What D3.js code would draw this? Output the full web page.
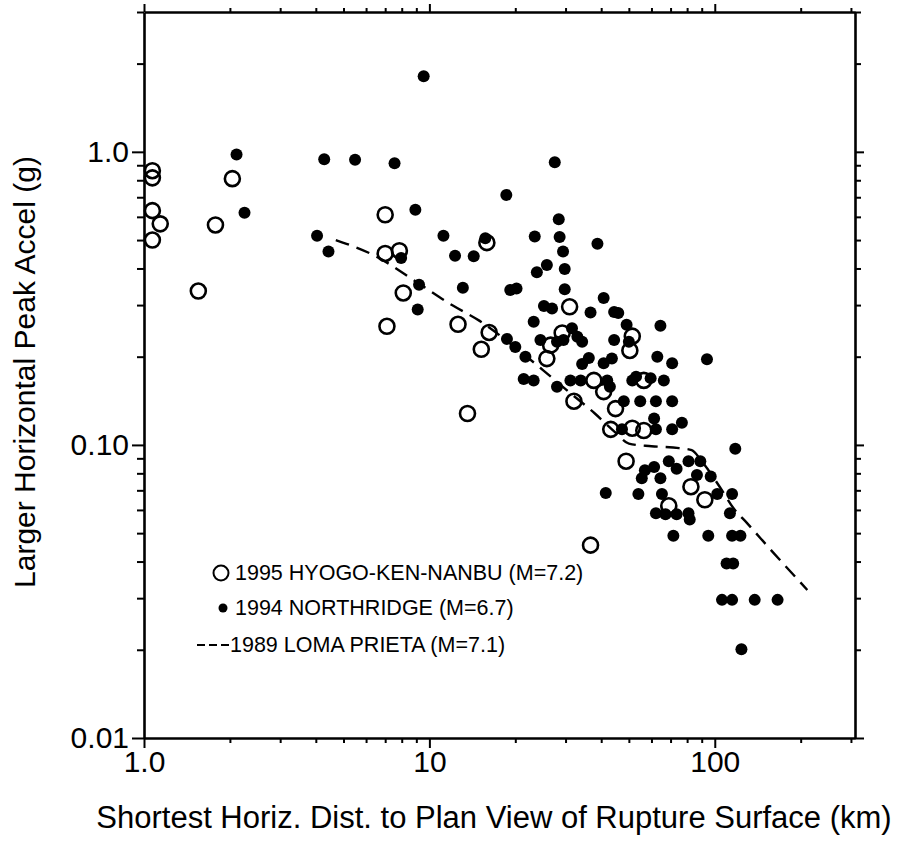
<!DOCTYPE html>
<html>
<head>
<meta charset="utf-8">
<script src="https://cdn.jsdelivr.net/npm/d3@7"></script>
<style>
    body { margin: 0; background: #fff; }
    #chart { width: 903px; height: 841px; }
    text { font-family: "Liberation Sans", Arial, Helvetica, sans-serif; fill: #000; }
</style>
</head>
<body>
<div id="chart"></div>
<script>
// 1995 Hyogo-ken-Nanbu records [distance km, pga g]
const hyogoDist = [1.07, 1.07, 1.07, 1.14, 1.07, 2.04, 1.78, 1.55, 7.0, 7.0, 7.85, 8.1, 7.1, 12.6, 13.6, 15.2,
    16.2, 15.9, 25.8, 26.6, 29.2, 31, 32.1, 37.7, 36.7, 40.8, 44.9, 43.2, 51.4, 56.4, 51.4, 50.4, 56.4, 48.9,
    69, 82.5, 92.3];
const hyogoPga = [0.862, 0.815, 0.63, 0.568, 0.50, 0.81, 0.563, 0.335, 0.61, 0.45, 0.46, 0.33, 0.254, 0.258, 0.128, 0.212,
    0.242, 0.49, 0.197, 0.219, 0.241, 0.296, 0.141, 0.166, 0.0455, 0.152, 0.133, 0.113, 0.114, 0.112, 0.235, 0.210, 0.166, 0.088,
    0.062, 0.072, 0.065];

// 1994 Northridge records
const northDist = [2.11, 2.25, 4.04, 4.28, 4.43, 5.49, 7.55, 7.96, 8.93, 9.2, 9.1, 9.55, 11.2, 12.3, 13.1, 14.3,
    15.7, 18.6, 19.2, 20.2, 18.7, 20.0, 21.7, 21.4, 23.2, 23.2, 23.4, 23.8, 24.5, 25.2, 25.8, 26.9,
    27.5, 28, 28, 28.4, 28.6, 29.4, 29.5, 29.8, 29.8, 31.6, 33, 34.3, 31.2, 33.9, 34.3, 36.2,
    36.7, 38.8, 40.8, 40.8, 43.6, 44.4, 45.9, 44.4, 41.5, 42.0, 42.9, 47.3, 48, 49.1, 50, 51.4, 53,
    54, 54.8, 55.5, 56.9, 59.6, 61.3, 61.3, 62.2, 62.2, 62.2, 62.9, 64.5, 64.5, 65.3, 66.3, 67.2,
    69, 70.9, 70.9, 70.9, 71.6, 73.5, 73.5, 76.7, 80.9, 80.9, 81.7, 86.6, 89, 93.9, 94.9, 96.8,
    102, 106, 110, 113, 115, 115, 115, 116, 118, 123, 124, 138, 166];
const northPga = [0.98, 0.62, 0.517, 0.944, 0.457, 0.94, 0.915, 0.434, 0.634, 0.352, 0.29, 1.81, 0.517, 0.442, 0.344, 0.44,
    0.507, 0.713, 0.338, 0.342, 0.23, 0.216, 0.2, 0.168, 0.166, 0.263, 0.514, 0.388, 0.228, 0.298, 0.411, 0.292,
    0.922, 0.158, 0.225, 0.589, 0.512, 0.457, 0.228, 0.398, 0.34, 0.25, 0.234, 0.225, 0.166, 0.166, 0.189, 0.198,
    0.283, 0.486, 0.317, 0.19, 0.197, 0.284, 0.282, 0.228, 0.0685, 0.166, 0.158, 0.113, 0.141, 0.257, 0.225, 0.166, 0.171,
    0.068, 0.141, 0.077, 0.082, 0.169, 0.084, 0.123, 0.141, 0.113, 0.0585, 0.2, 0.255, 0.077, 0.068, 0.166, 0.058,
    0.088, 0.19, 0.141, 0.113, 0.049, 0.083, 0.058, 0.119, 0.088, 0.0585, 0.0557, 0.079, 0.088, 0.196, 0.049, 0.078,
    0.068, 0.0296, 0.0394, 0.0585, 0.068, 0.049, 0.0296, 0.0394, 0.097, 0.049, 0.0201, 0.0296, 0.0296];

// 1989 Loma Prieta curve
const lomaDist = [4.7, 6.5, 9, 12, 15, 20, 25, 30, 38, 45, 50, 60, 75, 83, 90, 104, 116, 130, 160, 211];
const lomaPga = [0.50, 0.44, 0.36, 0.30, 0.265, 0.215, 0.18, 0.155, 0.128, 0.11, 0.101, 0.099, 0.0975, 0.096, 0.088,
    0.072, 0.061, 0.054, 0.043, 0.032];

const xTickLabels = {1: "1.0", 10: "10", 100: "100"};
const yTickLabels = {0.01: "0.01", 0.1: "0.10", 1: "1.0"};
const legendLabels = ["1995 HYOGO-KEN-NANBU (M=7.2)", "1994 NORTHRIDGE (M=6.7)", "1989 LOMA PRIETA (M=7.1)"];

class AccelVis {

    constructor(parentElement) {
        this.parentElement = parentElement;
        this.hyogo = hyogoDist.map((d, i) => ({dist: d, pga: hyogoPga[i]}));
        this.north = northDist.map((d, i) => ({dist: d, pga: northPga[i]}));
        this.loma = lomaDist.map((d, i) => ({dist: d, pga: lomaPga[i]}));
        this.initVis();
    }

    initVis() {
        let vis = this;

        vis.margin = {top: 12, right: 48, bottom: 103, left: 144};
        vis.width = 903 - vis.margin.left - vis.margin.right;
        vis.height = 841 - vis.margin.top - vis.margin.bottom;

        vis.svg = d3.select("#" + vis.parentElement).append("svg")
            .attr("width", 903)
            .attr("height", 841);

        vis.chartArea = vis.svg.append("g")
            .attr("transform", "translate(" + vis.margin.left + "," + vis.margin.top + ")");

        // log scales
        vis.x = d3.scaleLog()
            .domain([1, 310])
            .range([0, vis.width]);

        vis.y = d3.scaleLog()
            .domain([0.01, 3])
            .range([vis.height, 0]);

        // every log tick 1..9 per decade
        vis.xTicks = [];
        [1, 10, 100].forEach(dec => {
            for (let k = 1; k < 10; k++) {
                if (dec * k <= 310) vis.xTicks.push(dec * k);
            }
        });
        vis.yTicks = [];
        [0.01, 0.1, 1].forEach(dec => {
            for (let k = 1; k < 10; k++) {
                if (dec * k <= 3) vis.yTicks.push(+(dec * k).toFixed(3));
            }
        });

        vis.isMajor = v => Math.abs(Math.log10(v) - Math.round(Math.log10(v))) < 1e-6;

        vis.drawAxis(d3.axisBottom(vis.x), vis.xTicks, "translate(0," + vis.height + ")", xTickLabels, 10, 5);
        vis.drawAxis(d3.axisTop(vis.x), vis.xTicks, "translate(0,0)", {}, 8, 4);
        vis.drawAxis(d3.axisLeft(vis.y), vis.yTicks, "translate(0,0)", yTickLabels, 12, 7);
        vis.drawAxis(d3.axisRight(vis.y), vis.yTicks, "translate(" + vis.width + ",0)", {}, 9, 6);

        // axis titles
        vis.svg.append("text")
            .attr("x", 494)
            .attr("y", 828)
            .attr("text-anchor", "middle")
            .attr("font-size", 31)
            .text("Shortest Horiz. Dist. to Plan View of Rupture Surface (km)");

        vis.svg.append("text")
            .attr("transform", "translate(35,372) rotate(-90)")
            .attr("text-anchor", "middle")
            .attr("font-size", 30)
            .text("Larger Horizontal Peak Accel (g)");

        vis.drawLegend();
        vis.updateVis();
    }

    drawAxis(axis, ticks, transform, labels, majorLen, minorLen) {
        let vis = this;
        let g = vis.chartArea.append("g")
            .attr("transform", transform)
            .call(axis.tickValues(ticks)
                .tickSizeOuter(0)
                .tickSizeInner(majorLen)
                .tickFormat(d => labels[d] || ""));

        g.select(".domain")
            .attr("stroke", "#000")
            .attr("stroke-width", 2.6);

        // shorter minor ticks
        g.selectAll(".tick line")
            .attr("stroke", "#000")
            .attr("stroke-width", 2)
            .each(function(d) {
                let len = vis.isMajor(d) ? majorLen : minorLen;
                let line = d3.select(this);
                if (line.attr("x2") && +line.attr("x2") !== 0) {
                    line.attr("x2", Math.sign(+line.attr("x2")) * len);
                } else {
                    line.attr("y2", Math.sign(+line.attr("y2")) * len);
                }
            });

        g.selectAll(".tick text")
            .attr("font-size", 30)
            .attr("font-family", "'Liberation Sans', Arial, sans-serif")
            .attr("fill", "#000");

        return g;
    }

    drawLegend() {
        let vis = this;
        vis.legend = vis.svg.append("g");

        vis.legend.append("circle")
            .attr("cx", 221)
            .attr("cy", 573)
            .attr("r", 7.5)
            .attr("fill", "#fff")
            .attr("stroke", "#000")
            .attr("stroke-width", 2);

        vis.legend.append("circle")
            .attr("cx", 223)
            .attr("cy", 608)
            .attr("r", 4.5)
            .attr("fill", "#000");

        vis.legend.append("line")
            .attr("x1", 197)
            .attr("x2", 229)
            .attr("y1", 645)
            .attr("y2", 645)
            .attr("stroke", "#000")
            .attr("stroke-width", 2)
            .attr("stroke-dasharray", "8,4");

        vis.legend.selectAll(".legend-label")
            .data(legendLabels)
            .enter()
            .append("text")
            .attr("class", "legend-label")
            .attr("x", (d, i) => i === 2 ? 230 : 235)
            .attr("y", (d, i) => [573, 608, 645][i])
            .attr("dominant-baseline", "central")
            .attr("font-size", 21.5)
            .text(d => d);
    }

    updateVis() {
        let vis = this;

        vis.chartArea.append("path")
            .datum(vis.loma)
            .attr("fill", "none")
            .attr("stroke", "#000")
            .attr("stroke-width", 2.4)
            .attr("stroke-dasharray", "14,8")
            .attr("d", d3.line()
                .curve(d3.curveMonotoneX)
                .x(d => vis.x(d.dist))
                .y(d => vis.y(d.pga)));

        vis.chartArea.selectAll(".north-dot")
            .data(vis.north)
            .enter()
            .append("circle")
            .attr("class", "north-dot")
            .attr("r", 6)
            .attr("cx", d => vis.x(d.dist))
            .attr("cy", d => vis.y(d.pga))
            .attr("fill", "#000");

        vis.chartArea.selectAll(".hyogo-dot")
            .data(vis.hyogo)
            .enter()
            .append("circle")
            .attr("class", "hyogo-dot")
            .attr("r", 7.5)
            .attr("cx", d => vis.x(d.dist))
            .attr("cy", d => vis.y(d.pga))
            .attr("fill", "none")
            .attr("stroke", "#000")
            .attr("stroke-width", 2.6);
    }
}

new AccelVis("chart");
</script>
</body>
</html>
